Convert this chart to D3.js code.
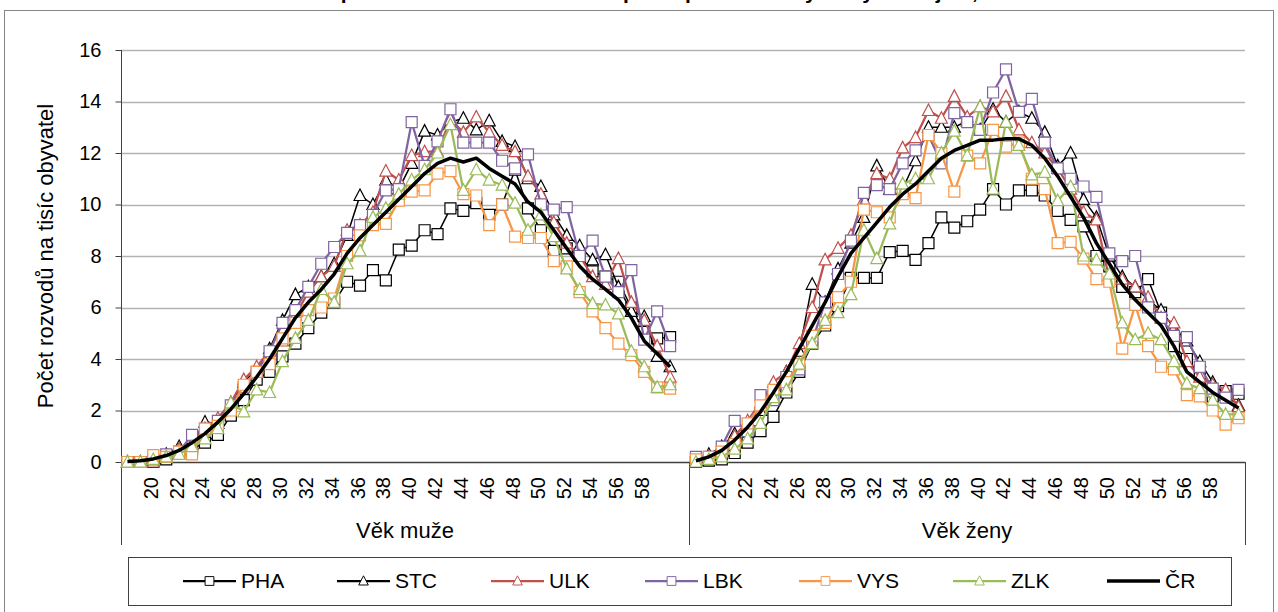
<!DOCTYPE html>
<html>
<head>
<meta charset="utf-8">
<script src="https://cdn.jsdelivr.net/npm/d3@7"></script>
<style>
  body { margin: 0; background: #fff; }
  svg { font-family: "Liberation Sans", Arial, sans-serif; display: block; }
</style>
</head>
<body>
<svg id="chart"></svg>
<script>
// categories
const ages = d3.range(18, 61);
const tickAges = d3.range(20, 59, 2);
const groups = ["Věk muže", "Věk ženy"];
const seriesNames = ["PHA", "STC", "ULK", "LBK", "VYS", "ZLK", "ČR"];
const yTicks = d3.range(0, 17, 2);
const title = "Věkově specifická míra rozvodovosti podle pohlaví ve vybraných krajích, 2019";

// men, ages 18..60
const phaMen = [0, 0, 0, 0.1, 0.35, 0.5, 0.75, 1.05, 1.8, 2.4, 3.2, 3.5, 4.1, 4.6, 5.2, 5.8, 6.2, 7.0, 6.85, 7.45, 7.05, 8.25, 8.4, 9.0, 8.85, 9.85, 9.75, 10.05, 9.6, 10.0, 11.35, 9.85, 9.0, 8.2, 8.3, 8.0, 7.4, 7.2, 7.0, 6.0, 5.05, 4.8, 4.85];
const stcMen = [0, 0, 0.1, 0.3, 0.6, 0.7, 1.55, 1.5, 2.3, 3.1, 3.6, 4.4, 5.5, 6.5, 6.8, 7.2, 7.7, 8.8, 10.35, 10.0, 10.95, 10.6, 11.6, 12.85, 12.7, 13.2, 13.35, 12.9, 13.25, 12.45, 12.25, 11.0, 10.7, 9.6, 8.8, 8.4, 7.85, 8.05, 6.8, 5.85, 5.65, 4.1, 3.7];
const ulkMen = [0, 0, 0, 0.2, 0.5, 0.7, 1.3, 1.7, 2.3, 3.2, 3.7, 4.3, 4.7, 5.7, 6.6, 7.2, 7.6, 9.0, 9.2, 9.7, 11.3, 10.95, 11.9, 12.05, 12.05, 13.3, 12.8, 13.4, 12.8, 12.3, 12.05, 11.1, 10.4, 9.3, 8.5, 8.0, 7.2, 6.9, 7.9, 6.2, 5.5, 4.5, 3.3];
const lbkMen = [0, 0, 0.1, 0.3, 0.4, 1.05, 1.3, 1.6, 2.2, 2.9, 3.5, 4.3, 5.4, 5.9, 6.8, 7.7, 8.35, 8.9, 9.2, 9.6, 10.55, 10.6, 13.2, 11.5, 12.45, 13.7, 12.4, 12.4, 12.4, 11.7, 11.4, 11.95, 10.0, 9.8, 9.9, 8.0, 8.6, 7.2, 6.6, 7.45, 4.75, 5.85, 4.5];
const vysMen = [0, 0, 0.27, 0.2, 0.4, 0.3, 1.3, 1.4, 2.0, 3.0, 3.5, 3.8, 4.8, 5.4, 5.9, 6.0, 6.35, 8.0, 8.8, 9.2, 9.25, 10.15, 10.5, 10.55, 11.2, 11.3, 10.4, 10.35, 9.2, 10.0, 8.75, 8.7, 8.7, 7.8, 7.6, 6.6, 5.85, 5.2, 4.6, 4.15, 3.5, 2.9, 2.85];
const zlkMen = [0, 0, 0.1, 0.2, 0.3, 0.6, 0.9, 1.3, 2.3, 1.95, 2.8, 2.7, 3.9, 4.8, 5.5, 6.7, 6.2, 7.7, 8.2, 9.5, 9.85, 10.4, 10.95, 11.35, 12.0, 13.1, 10.55, 11.35, 10.95, 10.75, 10.05, 9.0, 9.6, 8.75, 7.5, 6.7, 6.15, 6.1, 5.75, 4.3, 3.7, 2.9, 3.0];
const crMen = [0.02, 0.05, 0.12, 0.25, 0.45, 0.75, 1.1, 1.55, 2.05, 2.65, 3.3, 4.0, 4.8, 5.6, 6.2, 6.7, 7.3, 8.1, 8.7, 9.2, 9.7, 10.2, 10.7, 11.2, 11.6, 11.8, 11.65, 11.8, 11.4, 11.1, 10.8, 10.1, 9.7, 9.0, 8.3, 7.6, 7.1, 6.7, 6.3, 5.6, 4.7, 4.2, 3.7];

// women, ages 18..60
const phaWomen = [0, 0.05, 0.1, 0.35, 0.75, 1.2, 1.75, 2.7, 3.5, 4.6, 5.3, 6.05, 7.15, 7.15, 7.15, 8.15, 8.2, 7.85, 8.5, 9.5, 9.1, 9.35, 9.8, 10.6, 10.0, 10.55, 10.55, 10.35, 9.75, 9.4, 9.15, 8.0, 7.6, 6.8, 6.6, 7.1, 5.8, 4.5, 4.0, 3.4, 2.55, 2.75, 2.65];
const stcWomen = [0.05, 0.3, 0.6, 1.1, 1.4, 2.0, 2.8, 3.5, 4.3, 6.9, 6.2, 7.5, 8.5, 9.5, 11.5, 10.6, 10.6, 11.7, 13.0, 13.0, 13.0, 13.25, 12.9, 13.7, 13.2, 13.6, 13.35, 12.8, 11.5, 12.0, 10.2, 9.5, 8.0, 7.2, 6.8, 6.3, 5.9, 5.2, 4.7, 3.9, 3.1, 2.6, 2.2];
const ulkWomen = [0.1, 0.2, 0.4, 1.0, 1.6, 2.3, 3.1, 3.5, 4.6, 6.0, 7.85, 8.3, 8.8, 10.2, 11.2, 11.0, 12.2, 12.6, 13.65, 13.35, 14.2, 13.4, 13.8, 13.6, 14.2, 12.9, 12.4, 12.0, 11.4, 10.6, 9.7, 9.4, 7.1, 7.1, 6.8, 6.4, 5.6, 5.4, 3.9, 3.3, 3.0, 2.8, 2.15];
const lbkWomen = [0.2, 0.2, 0.6, 1.6, 1.2, 2.6, 2.4, 3.3, 3.6, 4.7, 6.2, 7.3, 8.6, 10.45, 10.75, 10.6, 11.6, 12.1, 12.7, 11.6, 13.55, 13.2, 12.9, 14.35, 15.25, 13.6, 14.1, 12.4, 11.4, 11.0, 10.7, 10.3, 8.1, 7.8, 8.0, 6.0, 5.6, 4.9, 4.85, 3.7, 2.85, 2.5, 2.8];
const vysWomen = [0.1, 0.2, 0.4, 0.7, 1.5, 2.2, 2.8, 3.1, 3.8, 4.9, 5.4, 6.4, 7.0, 9.8, 9.7, 9.5, 10.4, 10.25, 12.7, 12.0, 10.5, 11.9, 11.6, 12.9, 12.25, 12.4, 11.0, 10.6, 8.5, 8.55, 7.9, 7.1, 7.0, 4.4, 6.1, 4.5, 3.7, 3.6, 2.6, 2.55, 2.0, 1.45, 1.7];
const zlkWomen = [0, 0.1, 0.2, 0.5, 0.9, 1.5, 2.5, 2.8, 3.8, 4.6, 5.5, 5.8, 6.5, 9.0, 7.9, 9.25, 10.8, 11.0, 11.0, 12.0, 12.85, 11.9, 13.8, 10.6, 13.2, 12.3, 11.15, 11.25, 10.15, 10.7, 8.0, 7.85, 7.3, 5.4, 4.75, 5.0, 4.75, 3.9, 3.05, 2.85, 2.4, 1.85, 1.85];
const crWomen = [0.05, 0.2, 0.45, 0.85, 1.35, 1.95, 2.7, 3.5, 4.4, 5.3, 6.2, 7.2, 8.1, 8.7, 9.3, 9.9, 10.4, 10.8, 11.3, 11.8, 12.1, 12.3, 12.5, 12.5, 12.55, 12.55, 12.3, 11.8, 11.1, 10.3, 9.5, 8.5, 7.7, 6.9, 6.3, 5.8, 5.3, 4.5, 3.5, 3.1, 2.7, 2.4, 2.1];

const menValues = [phaMen, stcMen, ulkMen, lbkMen, vysMen, zlkMen, crMen];
const womenValues = [phaWomen, stcWomen, ulkWomen, lbkWomen, vysWomen, zlkWomen, crWomen];

const colors = ["#000000", "#000000", "#c0504d", "#8064a2", "#f79646", "#9bbb59", "#000000"];
const markers = ["square", "triangle", "triangle", "square", "square", "triangle", null];
const lineWidths = [1.5, 1.5, 2.25, 2.25, 2.25, 2.25, 3.5];

const width = 1278, height = 612;
const svg = d3.select("#chart").attr("width", width).attr("height", height);

// outer chart border
svg.append("rect")
  .attr("x", 4.5).attr("y", 10.5)
  .attr("width", 1269).attr("height", 610)
  .attr("fill", "none").attr("stroke", "#868686").attr("stroke-width", 1);

// title (cut off by the top edge in the original)
svg.append("text")
  .attr("x", 640).attr("y", -1)
  .attr("text-anchor", "middle")
  .attr("font-size", 21).attr("font-weight", "bold")
  .text(title);

// category keys: men 18..60 + one empty slot, women 18..60
const keys = [
  ...ages.map(a => "M" + a), "Mgap",
  ...ages.map(a => "Z" + a)
];
const x = d3.scaleBand().domain(keys).range([121, 1245]).padding(0);
const cx = k => x(k) + x.bandwidth() / 2;
const y = d3.scaleLinear().domain([0, 16]).range([462, 50]);

// gridlines
svg.append("g")
  .selectAll("line")
  .data(yTicks.filter(d => d > 0))
  .join("line")
  .attr("x1", 121).attr("x2", 1245)
  .attr("y1", d => Math.round(y(d)) + 0.5).attr("y2", d => Math.round(y(d)) + 0.5)
  .attr("stroke", "#b3b3b3").attr("stroke-width", 1.5);

// y axis
const yAxis = svg.append("g")
  .attr("transform", "translate(121.5,0)")
  .call(d3.axisLeft(y).tickValues(yTicks).tickSize(6).tickPadding(14).tickFormat(d3.format("d")));
yAxis.select(".domain").remove();
yAxis.selectAll(".tick line").attr("stroke", "#404040");
yAxis.selectAll(".tick text").attr("font-size", 20).attr("fill", "#000").attr("font-family", null);
svg.append("line")
  .attr("x1", 121.5).attr("x2", 121.5).attr("y1", 50).attr("y2", 545)
  .attr("stroke", "#404040");

// x axis baseline
svg.append("line")
  .attr("x1", 121).attr("x2", 1245).attr("y1", 462.5).attr("y2", 462.5)
  .attr("stroke", "#404040").attr("stroke-width", 1.5);

// group separators
[689.5, 1245.5].forEach(xx => {
  svg.append("line")
    .attr("x1", xx).attr("x2", xx).attr("y1", 462).attr("y2", 545)
    .attr("stroke", "#404040");
});

// age labels
const labelKeys = [...tickAges.map(a => "M" + a), ...tickAges.map(a => "Z" + a)];
svg.append("g")
  .selectAll("text")
  .data(labelKeys)
  .join("text")
  .attr("transform", k => `translate(${cx(k) + 4.5},477) rotate(-90)`)
  .attr("text-anchor", "end")
  .attr("font-size", 20)
  .text(k => k.slice(1));

// group labels
svg.append("g")
  .selectAll("text")
  .data(groups)
  .join("text")
  .attr("x", (d, i) => i === 0 ? (121 + 689) / 2 : (689 + 1245) / 2)
  .attr("y", 538)
  .attr("text-anchor", "middle")
  .attr("font-size", 22)
  .text(d => d);

// y axis title
svg.append("text")
  .attr("transform", "translate(53,256) rotate(-90)")
  .attr("text-anchor", "middle")
  .attr("font-size", 22)
  .text("Počet rozvodů na tisíc obyvatel");

function markerPath(type) {
  if (type === "square") return "M-5.5,-5.5H5.5V5.5H-5.5Z";
  if (type === "triangle") return "M0,-6.5L6,5L-6,5Z";
  return null;
}

const line = d3.line().x(d => cx(d.key)).y(d => y(d.value));
const plot = svg.append("g");

seriesNames.forEach((name, i) => {
  const g = plot.append("g");
  const panels = [
    ages.map((a, j) => ({ key: "M" + a, value: menValues[i][j] })),
    ages.map((a, j) => ({ key: "Z" + a, value: womenValues[i][j] }))
  ];
  panels.forEach(pts => {
    g.append("path")
      .datum(pts)
      .attr("d", line)
      .attr("fill", "none")
      .attr("stroke", colors[i])
      .attr("stroke-width", lineWidths[i])
      .attr("stroke-linejoin", "round");
    if (markers[i]) {
      g.append("g")
        .selectAll("path")
        .data(pts)
        .join("path")
        .attr("transform", d => `translate(${cx(d.key)},${y(d.value)})`)
        .attr("d", markerPath(markers[i]))
        .attr("fill", "#fff")
        .attr("stroke", colors[i])
        .attr("stroke-width", 1.2);
    }
  });
});

// legend
const legend = svg.append("g");
legend.append("rect")
  .attr("x", 128.5).attr("y", 557.5).attr("width", 1103).attr("height", 48)
  .attr("fill", "#fff").attr("stroke", "#404040");
const item = legend.selectAll("g.item")
  .data(seriesNames)
  .join("g")
  .attr("class", "item")
  .attr("transform", (d, i) => `translate(${183 + i * 154},581)`);
item.append("line")
  .attr("x1", 0).attr("x2", 53)
  .attr("stroke", (d, i) => colors[i])
  .attr("stroke-width", (d, i) => i === 6 ? 3.5 : 2.25);
item.filter((d, i) => markers[i])
  .append("path")
  .attr("transform", "translate(26.5,0) scale(0.8)")
  .attr("d", d => markerPath(markers[seriesNames.indexOf(d)]))
  .attr("fill", "#fff")
  .attr("stroke", d => colors[seriesNames.indexOf(d)])
  .attr("stroke-width", 1.2);
item.append("text")
  .attr("x", 58).attr("dy", "0.35em")
  .attr("font-size", 21)
  .text(d => d);
</script>
</body>
</html>
